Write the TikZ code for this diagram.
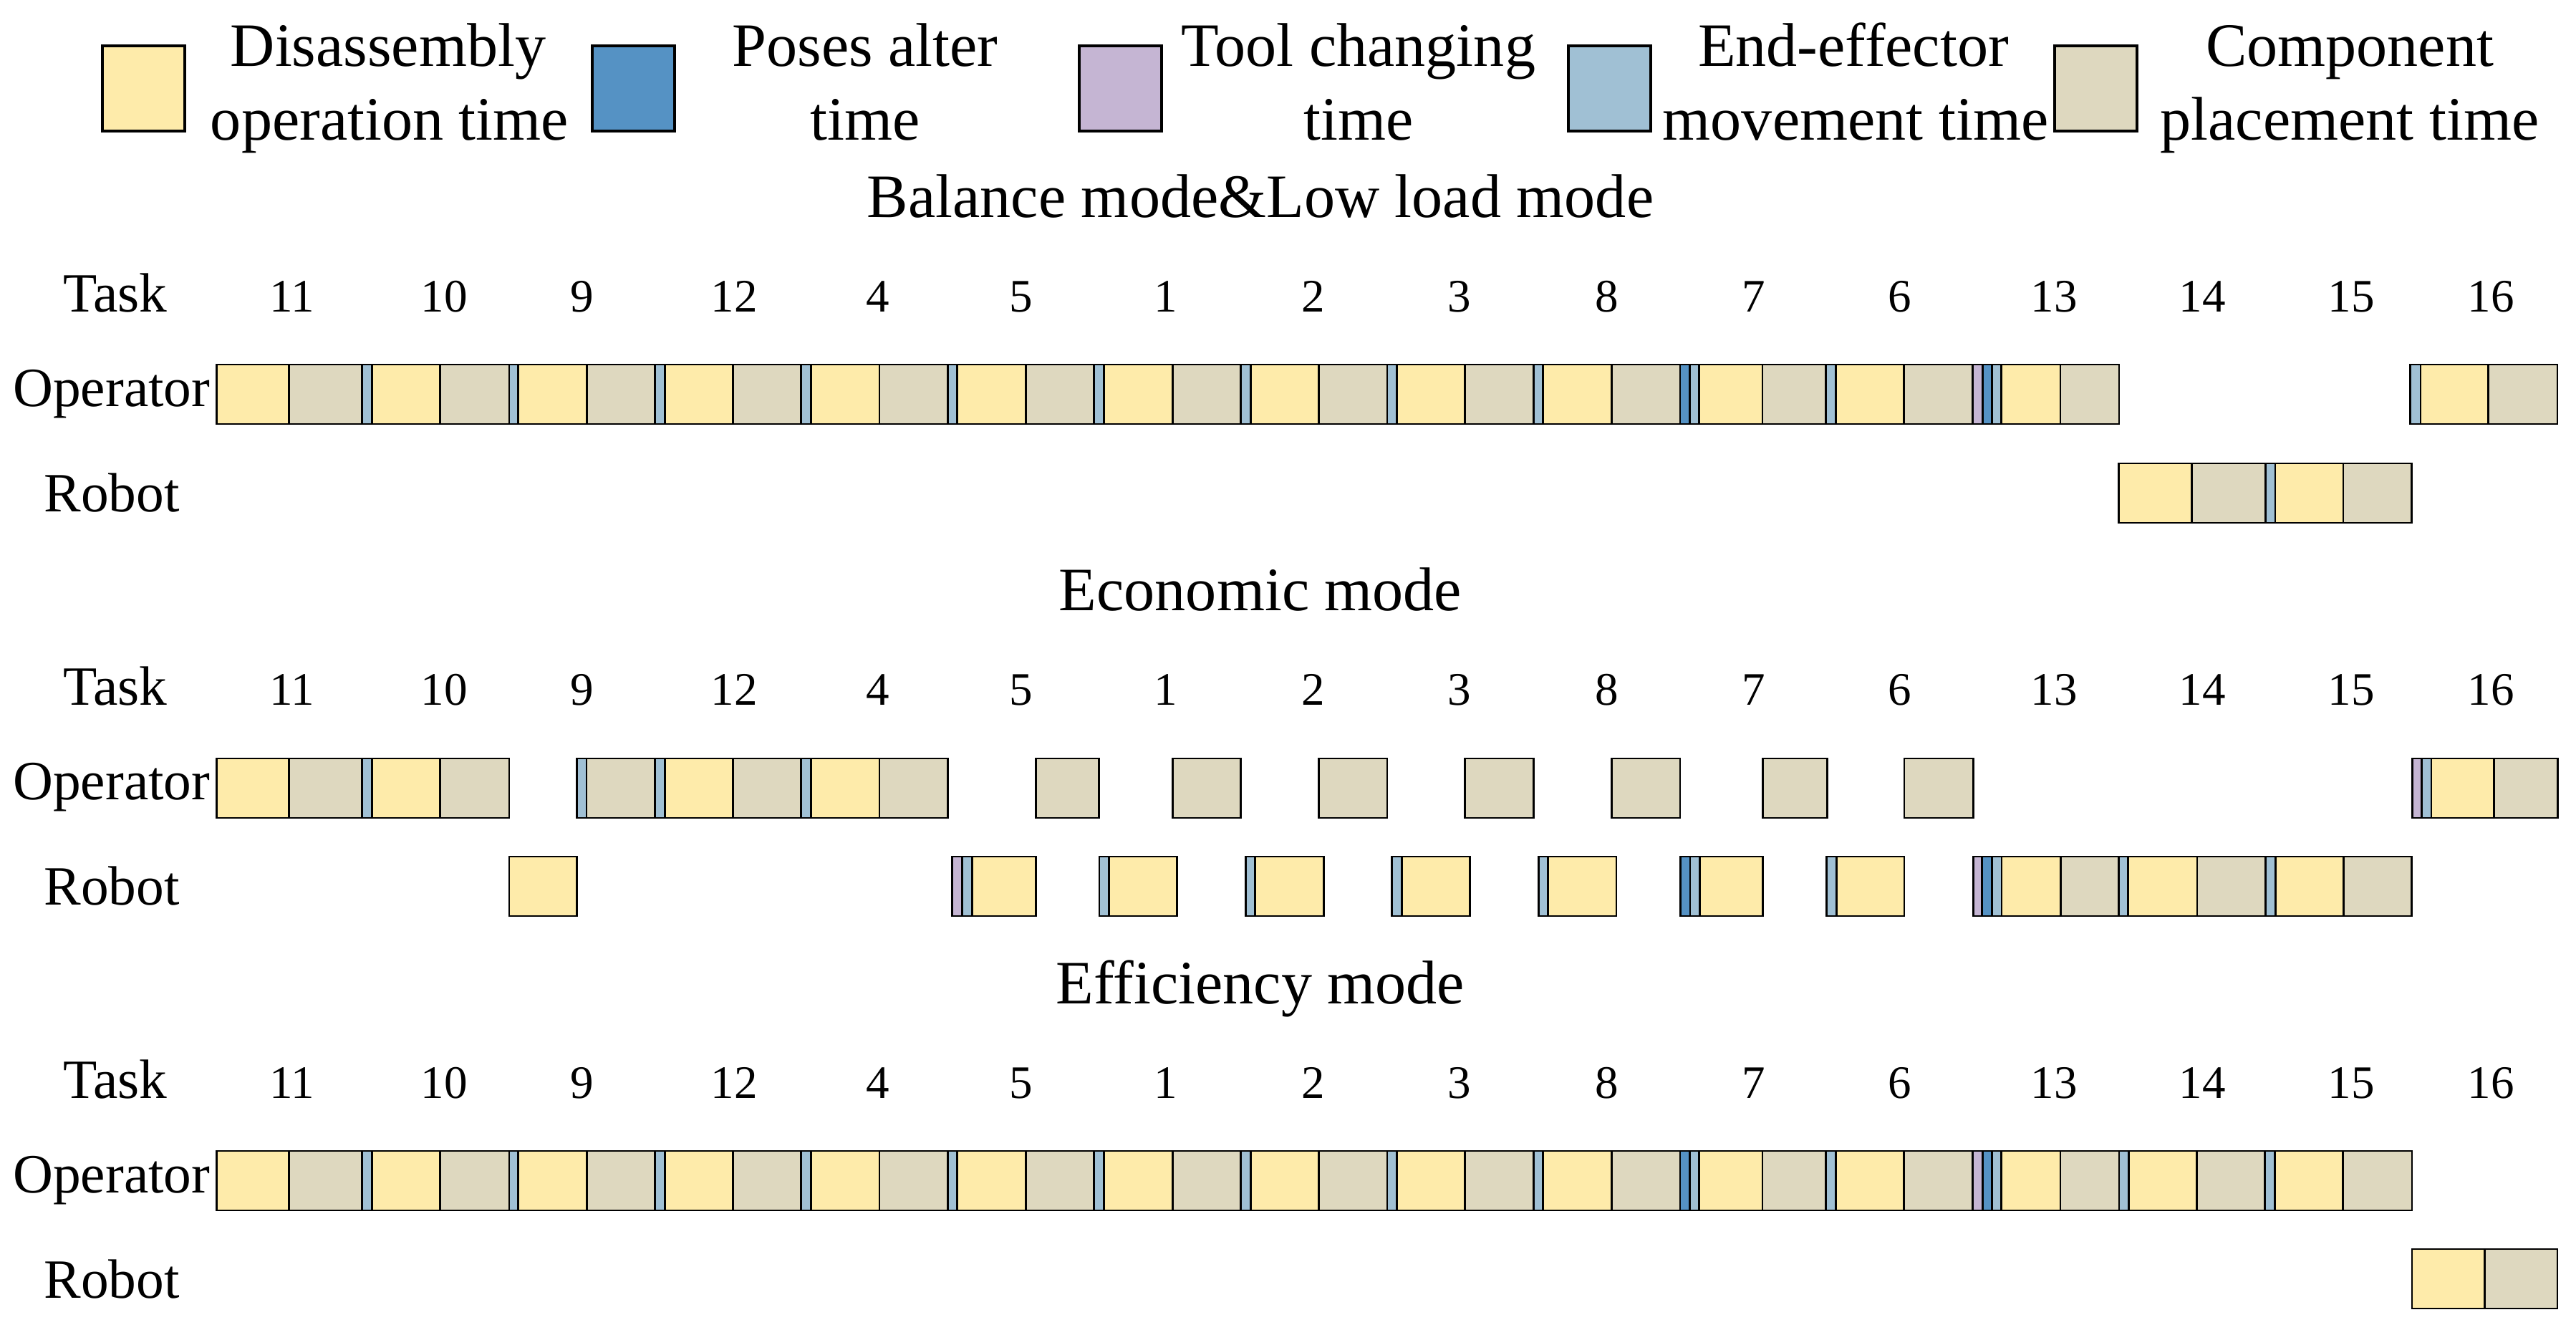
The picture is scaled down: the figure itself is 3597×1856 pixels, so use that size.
\documentclass[tikz,border=0pt]{standalone}
\usepackage{fontspec}
\setmainfont{Liberation Serif}
\definecolor{cY}{HTML}{FEEBAA}
\definecolor{cG}{HTML}{DED8BF}
\definecolor{cP}{HTML}{5592C4}
\definecolor{cT}{HTML}{C5B5D3}
\definecolor{cE}{HTML}{A0C0D4}
\newcommand\mseg[4]{\draw[seg,fill=#4] ({#1},{#3}) rectangle ({#2},{#3+83});}
\newcommand\mrow[2]{\foreach \a/\b/\c in {#2} {\mseg{\a}{\b}{#1}{\c}}}
\begin{document}
\begin{tikzpicture}[x=0.01cm,y=-0.01cm,
  seg/.style={draw=black,line width=0.8pt},
  big/.style={font=\fontsize{24.5}{28}\selectfont,anchor=base,inner sep=0},
  lab/.style={font=\fontsize{22}{26}\selectfont,inner sep=0},
  num/.style={font=\fontsize{18.5}{22}\selectfont,anchor=base,inner sep=0}]
\useasboundingbox[fill=white] (0,0) rectangle (3597,1856);
% legend
\foreach \x/\c in {143/cY,827/cP,1507/cT,2190/cE,2869/cG}
  \draw[seg,line width=1.2pt,fill=\c] (\x,64) rectangle ({\x+115},183);
\node[big] (l1a) at (542,92) {Disassembly};
\node[big] (l1b) at (544,195) {operation time};
\node[big] (l2a) at (1208,92) {Poses alter};
\node[big] (l2b) at (1208,195) {time};
\node[big] (l3a) at (1897,92) {Tool changing};
\node[big] (l3b) at (1897,195) {time};
\node[big] (l4a) at (2588,92) {End-effector};
\node[big] (l4b) at (2591,195) {movement time};
\node[big] (l5a) at (3281,92) {Component};
\node[big] (l5b) at (3281,195) {placement time};
% titles and labels per block
\foreach \t/\dy/\n in {Balance mode\&Low load mode/0/a, Economic mode/549/b, Efficiency mode/1098/c}{
  \node[big] (title\n) at (1760,{303+\dy}) {\t};
  \node[lab,anchor=base] (task\n) at (161,{435+\dy}) {Task};
  \node[lab,anchor=east] (op\n) at (294,{550+\dy}) {Operator};
  \node[lab] (rb\n) at (156,{688+\dy}) {Robot};
  \foreach \x/\k in {408/11,620/10,813/9,1025/12,1226/4,1426/5,1628/1,1834/2,2038/3,2244/8,2449/7,2653/6,2868/13,3075/14,3283/15,3478/16}
    \node[num] (n\n\k) at (\x,{435+\dy}) {\k};
}
% common operator sequence 11..13
\def\opseq{302.6/403.6/cY,403.6/505.4/cG,505.4/519.4/cE,519.4/614.8/cY,614.8/710.9/cG,710.9/723.5/cE,723.5/819.6/cY,819.6/914.3/cG,914.3/928.4/cE,928.4/1023.8/cY,1023.8/1118.5/cG,1118.5/1132.5/cE,1132.5/1227.9/cY,1227.9/1323.3/cG,1323.3/1336.7/cE,1336.7/1432.6/cY,1432.6/1527.3/cG,1527.3/1541.3/cE,1541.3/1637.5/cY,1637.5/1732.2/cG,1732.2/1746.2/cE,1746.2/1841.6/cY,1841.6/1937/cG,1937/1950.3/cE,1950.3/2045.7/cY,2045.7/2141.1/cG,2141.1/2154.5/cE,2154.5/2250.6/cY,2250.6/2346/cG,2346/2359.3/cP,2359.3/2372.6/cE,2372.6/2461/cY,2461/2549.3/cG,2549.3/2563.3/cE,2563.3/2658.7/cY,2658.7/2754.8/cG,2754.8/2768.1/cT,2768.1/2781.5/cP,2781.5/2794.8/cE,2794.8/2876.9/cY,2876.9/2959/cG}
% Block 1
\expandafter\mrow\expandafter{\expandafter5\expandafter0\expandafter9\expandafter}\expandafter{\opseq}
\mrow{509}{3365.3/3380/cE,3380/3474.6/cY,3474.6/3571/cG}
\mrow{647}{2958.6/3060.4/cY,3060.4/3163.4/cG,3163.4/3177/cE,3177/3272/cY,3272/3367.6/cG}
% Block 2
\mrow{1059}{302.6/403.6/cY,403.6/505.4/cG,505.4/519.4/cE,519.4/614.8/cY,614.8/710.9/cG,805.6/819/cE,819/914.3/cG,914.3/928.4/cE,928.4/1023.8/cY,1023.8/1118.5/cG,1118.5/1132.5/cE,1132.5/1227.9/cY,1227.9/1323.3/cG,1446.6/1534.3/cG,1637.5/1732.2/cG,1841.6/1937/cG,2045.7/2141.1/cG,2250.6/2346/cG,2461.7/2551.2/cG,2659/2755.3/cG,3368.5/3381.4/cT,3381.4/3395/cE,3395/3482.7/cY,3482.7/3571.8/cG}
\mrow{1196}{710.9/805.6/cY,1329.6/1343.7/cT,1343.7/1357.7/cE,1357.7/1446.6/cY,1535/1548.4/cE,1548.4/1643.8/cY,1739.2/1752.5/cE,1752.5/1848.6/cY,1943.3/1957.3/cE,1957.3/2052.7/cY,2148.2/2161.5/cE,2161.5/2256.9/cY,2346.7/2360/cP,2360/2373.3/cE,2373.3/2461.7/cY,2550.5/2564.2/cE,2564.2/2659/cY,2755.3/2767.6/cT,2767.6/2781.2/cP,2781.2/2794.9/cE,2794.9/2877.5/cY,2877.5/2958.8/cG,2958.8/2971.7/cE,2971.7/3068/cY,3068/3163.6/cG,3163.6/3177.2/cE,3177.2/3272.1/cY,3272.1/3367.7/cG}
% Block 3
\expandafter\mrow\expandafter{\expandafter1\expandafter6\expandafter0\expandafter7\expandafter}\expandafter{\opseq}
\mrow{1607}{2959/2972.3/cE,2972.3/3067.7/cY,3067.7/3162.4/cG,3162.4/3176.4/cE,3176.4/3271.8/cY,3271.8/3367.9/cG}
\mrow{1744}{3367.9/3469.6/cY,3469.6/3571/cG}
\end{tikzpicture}
\end{document}
